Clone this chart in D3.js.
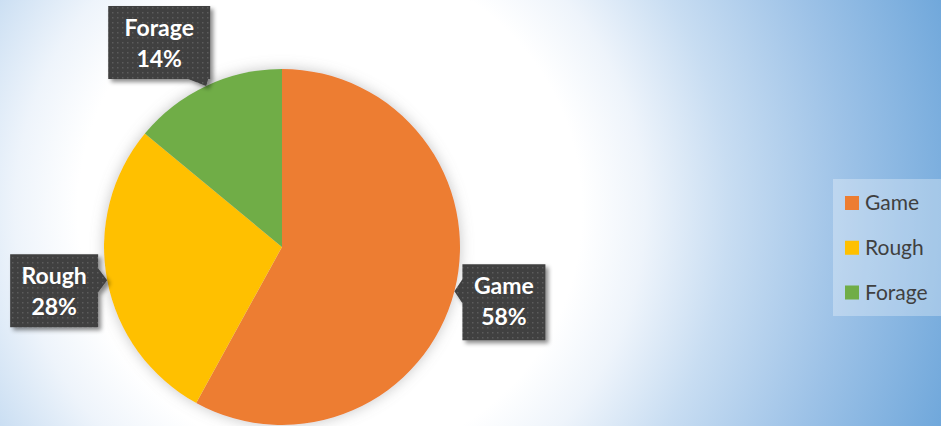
<!DOCTYPE html>
<html>
<head>
<meta charset="utf-8">
<script src="https://cdn.jsdelivr.net/npm/d3@7"></script>
<style>
  html, body { margin: 0; padding: 0; }
  body { width: 941px; height: 426px; overflow: hidden; }
  svg { display: block; }
</style>
</head>
<body>
<script>
const categories = ["Game", "Rough", "Forage"];
const values = [58, 28, 14];
const colours = ["#ED7D31", "#FFC000", "#70AD47"];
const labelText = ["58%", "28%", "14%"];

window.onload = function () {

  const W = 941, H = 426;
  const cx = 282, cy = 247, R = 178;

  const svg = d3.select("body").append("svg")
    .attr("width", W)
    .attr("height", H);

  const defs = svg.append("defs");

  // background gradient
  const bg = defs.append("radialGradient")
    .attr("id", "bg")
    .attr("gradientUnits", "userSpaceOnUse")
    .attr("cx", 330).attr("cy", 210).attr("r", 700);
  [[0, "#ffffff"], [0.36, "#ffffff"], [0.45, "#eef4fb"], [0.57, "#c8ddf2"],
   [0.74, "#9dc2e7"], [1, "#5e9dd6"]].forEach(s => {
    bg.append("stop").attr("offset", s[0]).attr("stop-color", s[1]);
  });

  // soft glow under pie
  const glow = defs.append("filter").attr("id", "glow")
    .attr("x", "-20%").attr("y", "-20%").attr("width", "140%").attr("height", "140%");
  glow.append("feGaussianBlur").attr("in", "SourceAlpha").attr("stdDeviation", 7).attr("result", "b");
  glow.append("feFlood").attr("flood-color", "#808080").attr("flood-opacity", 0.45);
  glow.append("feComposite").attr("in2", "b").attr("operator", "in").attr("result", "s");
  const gm = glow.append("feMerge");
  gm.append("feMergeNode").attr("in", "s");
  gm.append("feMergeNode").attr("in", "SourceGraphic");

  // callout shadow
  const sh = defs.append("filter").attr("id", "shadow")
    .attr("x", "-20%").attr("y", "-20%").attr("width", "150%").attr("height", "150%");
  sh.append("feDropShadow").attr("dx", 3).attr("dy", 3).attr("stdDeviation", 2)
    .attr("flood-color", "#000").attr("flood-opacity", 0.45);

  // dotted fill for callouts
  const pat = defs.append("pattern").attr("id", "dots")
    .attr("patternUnits", "userSpaceOnUse").attr("width", 5).attr("height", 5);
  pat.append("rect").attr("width", 5).attr("height", 5).attr("fill", "#404040");
  pat.append("rect").attr("x", 2).attr("y", 2).attr("width", 1.5).attr("height", 1.5).attr("fill", "#5c5c5c");

  svg.append("rect").attr("width", W).attr("height", H).attr("fill", "url(#bg)");

  const data = categories.map((c, i) => ({ name: c, value: values[i], colour: colours[i], label: labelText[i] }));

  const pie = d3.pie().value(d => d.value).sort(null);
  const arcs = pie(data);
  const arc = d3.arc().innerRadius(0).outerRadius(R);

  const g = svg.append("g").attr("transform", `translate(${cx},${cy})`);
  g.append("g").attr("filter", "url(#glow)")
    .selectAll("path")
    .data(arcs)
    .join("path")
    .attr("d", arc)
    .attr("fill", d => d.data.colour);

  // callout layout: box relative to the tip on the arc edge
  const layout = {
    Game:   { side: "left",   dx: 8,    dy: -27, w: 83,  h: 76, t0: -12, t1: 12 },
    Rough:  { side: "right",  dx: -97,  dy: -26, w: 88,  h: 73, t0: -12, t1: 12 },
    Forage: { side: "bottom", dx: -98,  dy: -80, w: 102, h: 73, t0: -18, t1: 2 }
  };

  const labels = svg.append("g");
  arcs.forEach(a => {
    const mid = (a.startAngle + a.endAngle) / 2;
    const tx = cx + R * Math.sin(mid);
    const ty = cy - R * Math.cos(mid);
    const L = layout[a.data.name];
    const x0 = tx + L.dx, y0 = ty + L.dy, x1 = x0 + L.w, y1 = y0 + L.h;
    const p = d3.path();
    p.moveTo(x0, y0);
    p.lineTo(x1, y0);
    if (L.side === "right") {
      p.lineTo(x1, ty + L.t0); p.lineTo(tx, ty); p.lineTo(x1, ty + L.t1);
    }
    p.lineTo(x1, y1);
    if (L.side === "bottom") {
      p.lineTo(tx + L.t1, y1); p.lineTo(tx, ty); p.lineTo(tx + L.t0, y1);
    }
    p.lineTo(x0, y1);
    if (L.side === "left") {
      p.lineTo(x0, ty + L.t1); p.lineTo(tx, ty); p.lineTo(x0, ty + L.t0);
    }
    p.closePath();

    const lg = labels.append("g");
    lg.append("path").attr("d", p.toString())
      .attr("fill", "url(#dots)")
      .attr("filter", "url(#shadow)");
    const t = lg.append("text")
      .attr("text-anchor", "middle")
      .attr("font-family", "Lato, 'Open Sans', sans-serif")
      .attr("font-weight", "bold")
      .attr("font-size", 23)
      .attr("fill", "#ffffff");
    t.append("tspan").attr("x", (x0 + x1) / 2).attr("y", y0 + 30).text(a.data.name);
    t.append("tspan").attr("x", (x0 + x1) / 2).attr("y", y0 + 61).text(a.data.label);
  });

  // legend
  const legend = svg.append("g");
  legend.append("rect")
    .attr("x", 833).attr("y", 179).attr("width", 120).attr("height", 137)
    .attr("fill", "#ffffff").attr("fill-opacity", 0.3);

  const ly = d3.scalePoint().domain(categories).range([203, 292.5]);
  const item = legend.selectAll("g.item")
    .data(data)
    .join("g")
    .attr("class", "item")
    .attr("transform", d => `translate(845,${ly(d.name)})`);
  item.append("rect")
    .attr("x", 0).attr("y", -7).attr("width", 14).attr("height", 14)
    .attr("fill", d => d.colour);
  item.append("text")
    .attr("x", 20).attr("y", 7)
    .attr("font-family", "Lato, 'Open Sans', sans-serif")
    .attr("font-size", 21)
    .attr("fill", "#404040")
    .text(d => d.name);
}
</script>
</body>
</html>
